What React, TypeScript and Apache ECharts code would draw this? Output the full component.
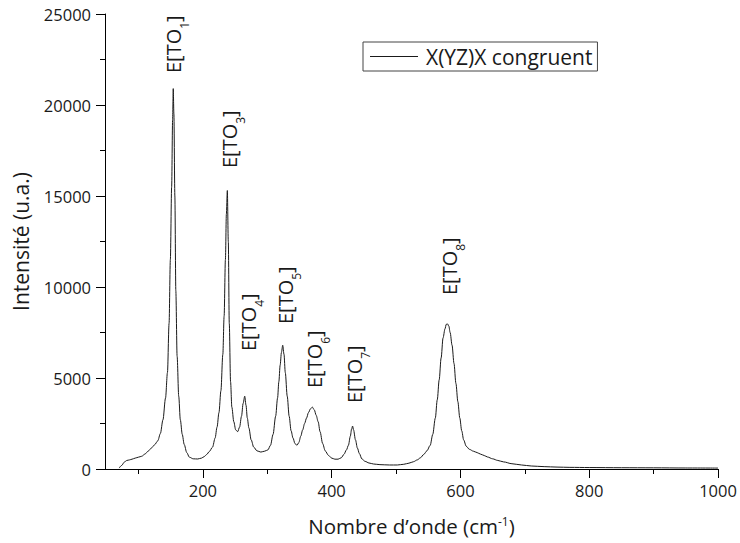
import React, { useEffect, useRef } from "react";
import * as echarts from "echarts";

// Raman spectrum X(YZ)X congruent — wavenumber (cm-1) vs intensity (a.u.)
const wavenumbers: number[] = [
  70, 74, 78, 82, 86, 90, 95, 100, 105, 110, 115, 120, 125, 130, 134, 138, 142, 145, 147.5, 149.5,
  151.5, 153, 154, 155, 156.5, 158, 160, 162.5, 165, 168, 171, 175, 179, 185, 192, 198, 202, 206, 210, 215,
  219, 222, 225, 228, 231, 233, 235, 236.5, 238, 239.5, 241, 243, 245, 248, 251, 254, 257, 260, 262.5, 265,
  267, 269, 271.5, 275, 279, 284, 290, 296, 301, 305, 309, 313, 316, 318, 320, 322, 324, 326, 328, 331,
  334, 337, 340, 343, 346, 349, 352, 355, 358, 361, 364, 367, 370, 373, 376, 379, 382, 386, 390, 395,
  400, 405, 410, 415, 419, 423, 426, 429, 431, 432.5, 434, 437, 440, 443, 447, 452, 458, 465, 475, 490,
  502, 512, 520, 527, 533, 538, 543, 548, 553, 557, 561, 564, 567, 570, 573, 576, 578, 580, 582, 584,
  587, 590, 593, 596, 599, 602, 605, 609, 614, 620, 626, 631, 637, 642, 650, 658, 667, 680, 695, 710,
  730, 750, 770, 800, 850, 900, 950, 1000,
];
const intensities: number[] = [
  50, 200, 380, 470, 500, 540, 600, 650, 700, 820, 980, 1150, 1330, 1550, 1950, 2700, 3900, 5300, 8000, 11500,
  15500, 19200, 20900, 19500, 15000, 9800, 6200, 4000, 2700, 1900, 1350, 900, 650, 560, 550, 600, 680, 800, 960, 1200,
  1700, 2300, 3100, 4300, 6300, 8400, 11500, 14000, 15300, 12500, 8000, 4800, 3400, 2600, 2150, 2050, 2300, 2900, 3600, 4000,
  3500, 2800, 2250, 1600, 1200, 1000, 930, 980, 1050, 1300, 1900, 2900, 3900, 4800, 5700, 6400, 6800, 6300, 5300, 4000,
  2900, 2100, 1700, 1400, 1300, 1450, 1800, 2150, 2500, 2800, 3100, 3300, 3400, 3250, 2950, 2600, 2050, 1400, 1000, 750,
  600, 540, 540, 620, 800, 1050, 1300, 1800, 2200, 2360, 2150, 1600, 1150, 850, 550, 420, 330, 275, 240, 220,
  220, 260, 320, 400, 500, 620, 800, 1000, 1300, 1900, 2800, 3800, 4900, 6100, 7200, 7700, 7950, 7970, 7850, 7500,
  6800, 5800, 4700, 3700, 2800, 2100, 1600, 1250, 1080, 980, 900, 820, 740, 660, 560, 470, 390, 290, 220, 165,
  130, 105, 90, 80, 70, 65, 55, 50,
];

const seriesName = "X(YZ)X congruent";
const xMajorTicks: number[] = [200, 400, 600, 800, 1000];
const xMinorTicks: number[] = [100, 300, 500, 700, 900];

// peak annotations (mode subscripts)
const peakSubs: string[] = ["1", "3", "4", "5", "6", "7", "8"];
const peakLabelPos: [number, number][] = [
  [174, 73], [230, 168], [249, 351], [286, 324], [315, 388], [355, 403], [450, 295],
];

const FONT = "'Open Sans', 'DejaVu Sans', sans-serif";
const TXT = "#1a1a1a";

export default function App() {
  const ref = useRef<HTMLDivElement>(null);

  useEffect(() => {
    document.body.style.margin = "0";
    if (!ref.current) return;
    const chart = echarts.init(ref.current, undefined, { renderer: "svg" });

    const data = wavenumbers.map((w, i) => [w, intensities[i]]);

    const graphics = peakSubs.map((sub, i) => ({
      type: "text",
      x: peakLabelPos[i][0],
      y: peakLabelPos[i][1],
      rotation: Math.PI / 2,
      style: {
        text: "{m|E[TO}{s|" + sub + "}{m|]}",
        fill: TXT,
        align: "left",
        verticalAlign: "middle",
        rich: {
          m: { fontSize: 20, fontFamily: FONT, fill: TXT, lineHeight: 22, verticalAlign: "top" },
          s: { fontSize: 12, fontFamily: FONT, fill: TXT, lineHeight: 12, verticalAlign: "top", padding: [15, 0, 0, 0] },
        },
      },
      z: 10,
    }));

    chart.setOption({
      animation: false,
      backgroundColor: "#ffffff",
      textStyle: { fontFamily: FONT },
      grid: { left: 105, right: 22, top: 14, bottom: 74 },
      legend: {
        data: [{ name: seriesName, icon: "rect" }],
        left: 363,
        top: 42,
        itemWidth: 48,
        itemHeight: 1,
        itemGap: 0,
        padding: [4, 5, 4, 7],
        borderColor: "#444",
        borderWidth: 1,
        textStyle: { fontSize: 21, color: TXT, fontFamily: FONT, lineHeight: 20, padding: [0, 0, 0, 3] },
      },
      xAxis: [
        {
          type: "value",
          min: 48,
          max: 1000,
          position: "bottom",
          name: "Nombre d’onde (cm{sup|-1})",
          nameLocation: "middle",
          nameGap: 46,
          nameTextStyle: {
            fontSize: 20.5,
            color: TXT,
            fontFamily: FONT,
            rich: { sup: { fontSize: 12, color: TXT, fontFamily: FONT, verticalAlign: "top", lineHeight: 12, padding: [0, 0, 10, 0] } },
          },
          axisLine: { show: true, lineStyle: { color: "#000", width: 1 } },
          axisTick: { show: true, inside: false, length: 9, customValues: xMajorTicks, lineStyle: { color: "#000" } },
          axisLabel: {
            show: true,
            customValues: xMajorTicks,
            fontSize: 16.5,
            color: TXT,
            margin: 13,
            fontFamily: FONT,
            formatter: (v: number) => String(v),
          },
          splitLine: { show: false },
        },
        {
          type: "value",
          min: 48,
          max: 1000,
          position: "bottom",
          axisLine: { show: false },
          axisTick: { show: true, inside: false, length: 5, customValues: xMinorTicks, lineStyle: { color: "#000" } },
          axisLabel: { show: false },
          splitLine: { show: false },
        },
      ],
      yAxis: {
        type: "value",
        min: 0,
        max: 25000,
        interval: 5000,
        name: "Intensité (u.a.)",
        nameLocation: "middle",
        nameGap: 74,
        nameTextStyle: { fontSize: 21, color: TXT, fontFamily: FONT },
        axisLine: { show: true, lineStyle: { color: "#000", width: 1 } },
        axisTick: { show: true, inside: false, length: 9, lineStyle: { color: "#000" } },
        minorTick: { show: true, splitNumber: 2, length: 5, lineStyle: { color: "#000" } },
        axisLabel: { fontSize: 16.5, color: TXT, margin: 14, fontFamily: FONT, formatter: (v: number) => String(v) },
        splitLine: { show: false },
      },
      series: [
        {
          name: seriesName,
          type: "line",
          xAxisIndex: 0,
          data,
          symbol: "none",
          smooth: 0.3,
          smoothMonotone: "x",
          lineStyle: { color: "#1a1a1a", width: 1 },
          itemStyle: { color: "#1a1a1a" },
        },
      ],
      graphic: graphics,
    });

    return () => chart.dispose();
  }, []);

  return <div ref={ref} style={{ width: 740, height: 543 }} />;
}
